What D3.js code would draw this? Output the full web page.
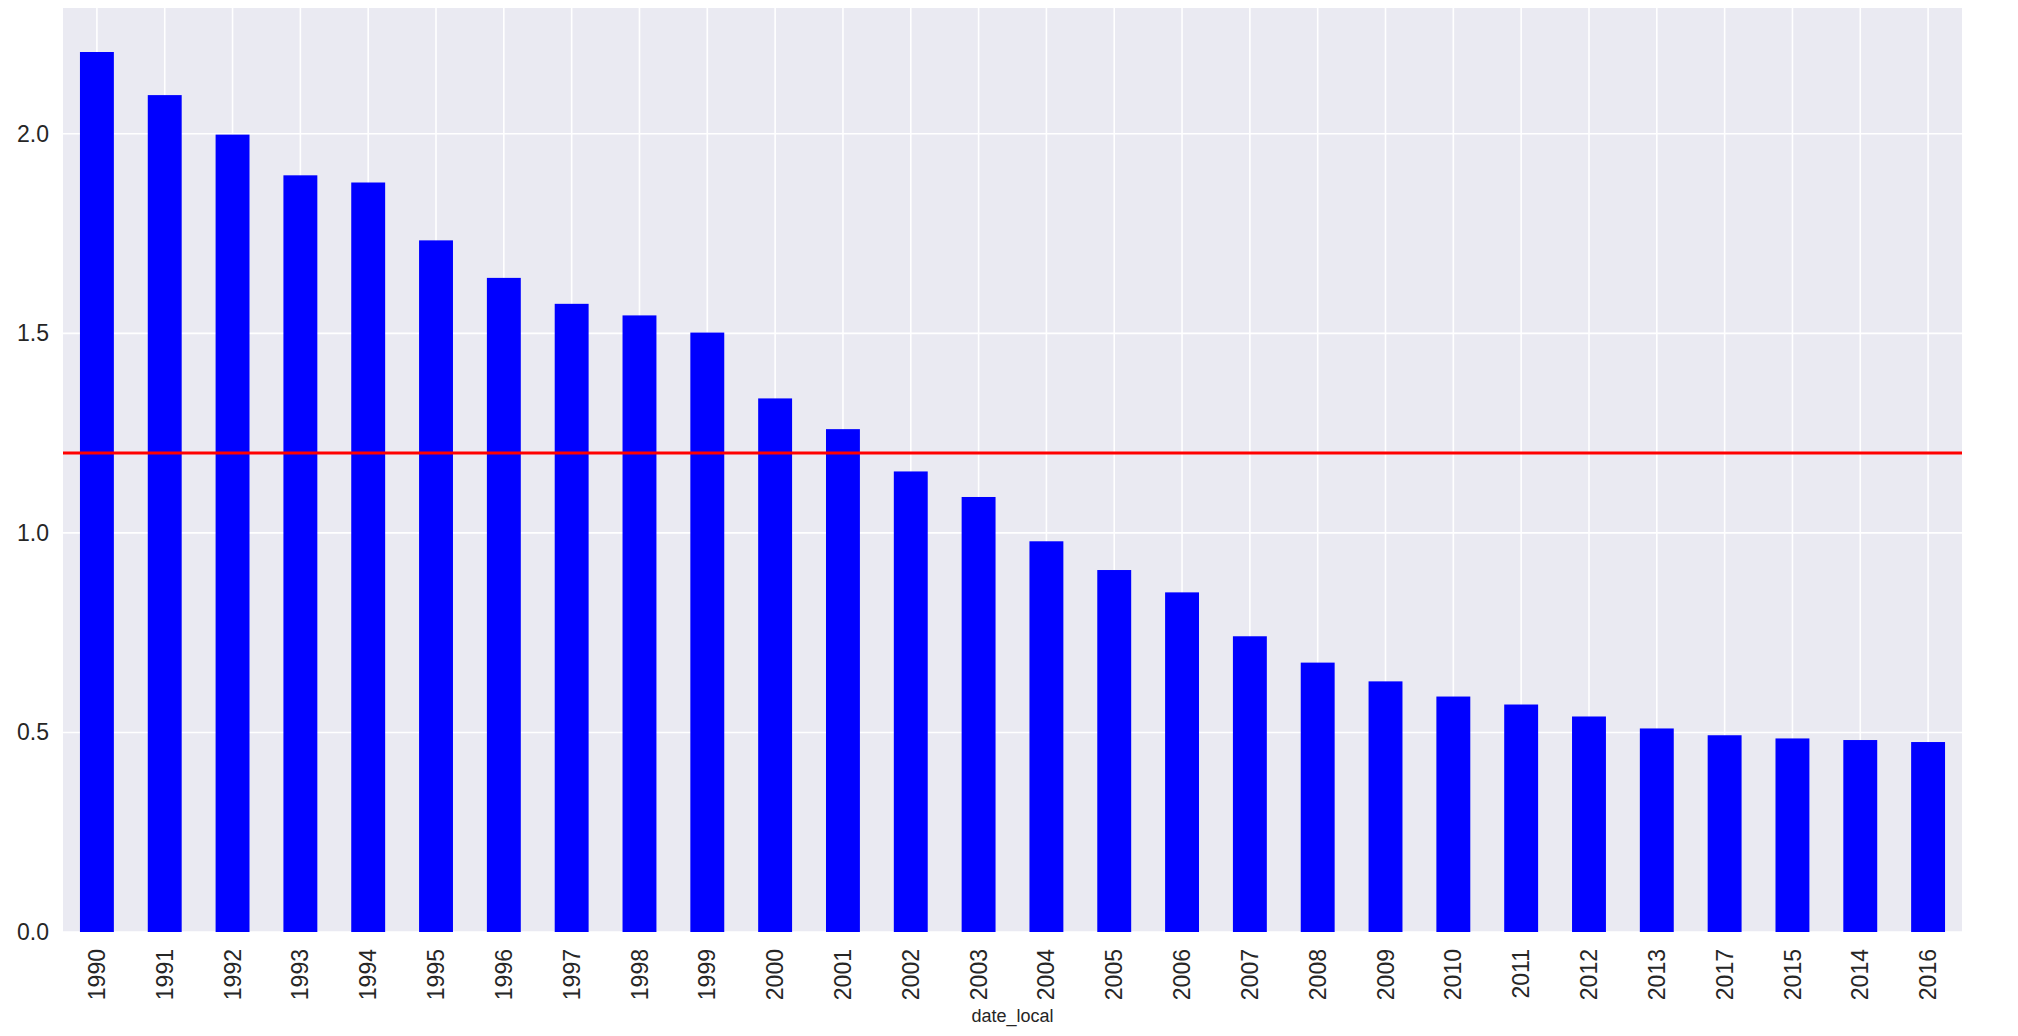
<!DOCTYPE html>
<html>
<head>
<meta charset="utf-8">
<script src="https://cdn.jsdelivr.net/npm/d3@7"></script>
<style>
  body { margin: 0; background: #fff; }
  svg { display: block; font-family: "Liberation Sans", Arial, sans-serif; }
</style>
</head>
<body>
<svg id="chart"></svg>
<script>
// data
const years = ['1990', '1991', '1992', '1993', '1994', '1995', '1996', '1997', '1998', '1999',
  '2000', '2001', '2002', '2003', '2004', '2005', '2006', '2007', '2008', '2009',
  '2010', '2011', '2012', '2013', '2017', '2015', '2014', '2016'];
const values = [2.205, 2.097, 1.998, 1.896, 1.878, 1.733, 1.639, 1.574, 1.545, 1.502,
  1.337, 1.260, 1.154, 1.090, 0.979, 0.907, 0.851, 0.741, 0.675, 0.628,
  0.590, 0.570, 0.540, 0.510, 0.493, 0.485, 0.481, 0.476];
const yTicks = [0.0, 0.5, 1.0, 1.5, 2.0];
const threshold = 1.2;
const xLabel = 'date_local';

const data = years.map((y, i) => ({ name: y, value: values[i] }));

const width = 2018;
const height = 1036;
const margin = { top: 8, left: 63, bottom: 104, right: 56 };
const iwidth = width - margin.left - margin.right;
const iheight = height - margin.top - margin.bottom;
const textColor = '#262626';

const svg = d3.select('#chart')
  .attr('width', width)
  .attr('height', height);

const g = svg.append('g')
  .attr('transform', `translate(${margin.left},${margin.top})`);

const x = d3.scaleBand()
  .domain(years)
  .range([0, iwidth])
  .paddingInner(0.5)
  .paddingOuter(0.25);

const y = d3.scaleLinear()
  .domain([0, d3.max(values) * 1.05])
  .range([iheight, 0]);

// background
g.append('rect')
  .attr('width', iwidth)
  .attr('height', iheight)
  .style('fill', '#eaeaf2');

// grid
g.append('g')
  .selectAll('line')
  .data(years)
  .enter().append('line')
  .attr('x1', d => x(d) + x.bandwidth() / 2)
  .attr('x2', d => x(d) + x.bandwidth() / 2)
  .attr('y1', 0)
  .attr('y2', iheight)
  .style('stroke', '#fff')
  .style('stroke-width', 1.6);

g.append('g')
  .selectAll('line')
  .data(yTicks)
  .enter().append('line')
  .attr('x1', 0)
  .attr('x2', iwidth)
  .attr('y1', d => y(d))
  .attr('y2', d => y(d))
  .style('stroke', '#fff')
  .style('stroke-width', 1.6);

// bars
g.selectAll('rect.bar')
  .data(data)
  .enter().append('rect')
  .attr('class', 'bar')
  .style('fill', '#0000ff')
  .attr('x', d => x(d.name))
  .attr('y', d => y(d.value))
  .attr('width', x.bandwidth())
  .attr('height', d => iheight - y(d.value));

// threshold line
g.append('line')
  .attr('x1', 0)
  .attr('x2', iwidth)
  .attr('y1', y(threshold))
  .attr('y2', y(threshold))
  .style('stroke', '#ff0000')
  .style('stroke-width', 3);

// y axis
const yAxis = g.append('g')
  .call(d3.axisLeft(y).tickValues(yTicks).tickFormat(d3.format('.1f')).tickSize(0).tickPadding(14))
  .attr('font-family', null)
  .attr('font-size', null);
yAxis.select('.domain').remove();
yAxis.selectAll('text')
  .style('font-size', '23px')
  .style('fill', textColor);

// x axis
const xAxis = g.append('g')
  .attr('transform', `translate(0,${iheight})`)
  .call(d3.axisBottom(x).tickSize(0).tickPadding(0))
  .attr('font-family', null)
  .attr('font-size', null);
xAxis.select('.domain').remove();
xAxis.selectAll('text')
  .attr('transform', 'translate(0,17) rotate(-90)')
  .attr('x', 0)
  .attr('y', 0)
  .attr('dy', '0.35em')
  .style('text-anchor', 'end')
  .style('font-size', '23px')
  .style('fill', textColor);

svg.append('text')
  .attr('x', margin.left + iwidth / 2)
  .attr('y', 1022)
  .style('text-anchor', 'middle')
  .style('font-size', '18px')
  .style('fill', textColor)
  .text(xLabel);
</script>
</body>
</html>
